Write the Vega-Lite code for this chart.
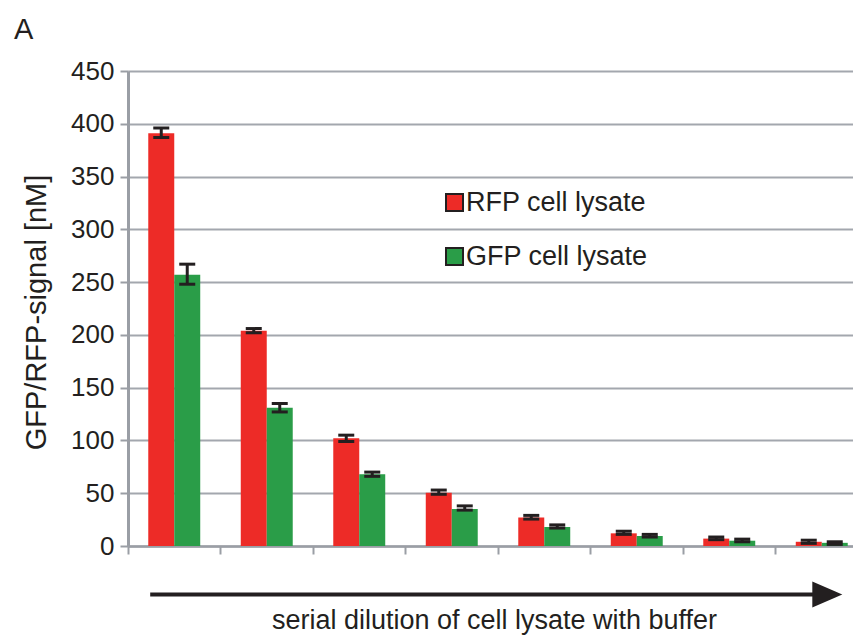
{
  "$schema": "https://vega.github.io/schema/vega-lite/v6.json",
  "autosize": "none",
  "padding": {"left": 128, "top": 71, "right": 0, "bottom": 89},
  "width": 740,
  "height": 475,
  "background": "white",
  "config": {
    "view": {"stroke": null},
    "font": "Liberation Sans",
    "legend": {
      "orient": "none",
      "legendX": 313,
      "legendY": 118,
      "symbolType": "square",
      "symbolSize": 289,
      "symbolStrokeColor": "#231F20",
      "symbolStrokeWidth": 2,
      "labelFontSize": 27,
      "labelFont": "Liberation Sans",
      "labelColor": "#231F20",
      "labelOffset": -2,
      "rowPadding": 26,
      "labelLimit": 400
    }
  },
  "title": {
    "text": "A",
    "anchor": "start",
    "frame": "group",
    "dx": -114,
    "offset": -10,
    "fontSize": 29,
    "fontWeight": "normal",
    "font": "Liberation Sans",
    "color": "#231F20",
    "baseline": "alphabetic"
  },
  "resolve": {"scale": {"x": "independent", "y": "independent"}},
  "layer": [
    {
      "data": {
        "values": [
          {"g": "1", "series": "RFP cell lysate", "value": 391, "lo": 387, "hi": 396},
          {"g": "1", "series": "GFP cell lysate", "value": 257, "lo": 248, "hi": 267},
          {"g": "2", "series": "RFP cell lysate", "value": 204, "lo": 202, "hi": 206},
          {"g": "2", "series": "GFP cell lysate", "value": 131, "lo": 127, "hi": 135},
          {"g": "3", "series": "RFP cell lysate", "value": 102, "lo": 99, "hi": 105},
          {"g": "3", "series": "GFP cell lysate", "value": 68, "lo": 66, "hi": 70},
          {"g": "4", "series": "RFP cell lysate", "value": 50.5, "lo": 49, "hi": 53},
          {"g": "4", "series": "GFP cell lysate", "value": 35, "lo": 34, "hi": 38},
          {"g": "5", "series": "RFP cell lysate", "value": 27, "lo": 25.5, "hi": 29},
          {"g": "5", "series": "GFP cell lysate", "value": 18, "lo": 17, "hi": 20},
          {"g": "6", "series": "RFP cell lysate", "value": 12, "lo": 11, "hi": 14},
          {"g": "6", "series": "GFP cell lysate", "value": 9.5, "lo": 8.5, "hi": 11},
          {"g": "7", "series": "RFP cell lysate", "value": 7, "lo": 6, "hi": 8.5},
          {"g": "7", "series": "GFP cell lysate", "value": 5, "lo": 4, "hi": 6.5},
          {"g": "8", "series": "RFP cell lysate", "value": 4, "lo": 2.5, "hi": 5.5},
          {"g": "8", "series": "GFP cell lysate", "value": 3, "lo": 1.5, "hi": 4}
        ]
      },
      "encoding": {
        "x": {
          "field": "g",
          "type": "ordinal",
          "scale": {"paddingInner": 0, "paddingOuter": 0},
          "axis": {
            "labels": false,
            "ticks": true,
            "tickSize": 8,
            "tickWidth": 2,
            "tickColor": "#9A9EA5",
            "bandPosition": 0,
            "domainColor": "#9A9EA5",
            "domainWidth": 2.5,
            "grid": false,
            "title": "serial dilution of cell lysate with buffer",
            "titleFont": "Liberation Sans",
            "titleFontSize": 27,
            "titleFontWeight": "normal",
            "titleColor": "#231F20",
            "titleBaseline": "alphabetic",
            "titleAlign": "center",
            "titleX": 366,
            "titleY": 82
          }
        },
        "xOffset": {
          "field": "series",
          "scale": {"domain": ["RFP cell lysate", "GFP cell lysate"], "paddingInner": 0, "paddingOuter": 0.78}
        }
      },
      "layer": [
        {
          "mark": {"type": "bar"},
          "encoding": {
            "y": {
              "field": "value",
              "type": "quantitative",
              "scale": {"domain": [0, 450], "nice": false},
              "axis": {
                "values": [0, 50, 100, 150, 200, 250, 300, 350, 400, 450],
                "grid": true,
                "gridColor": "#A3A7AE",
                "gridWidth": 2,
                "domainColor": "#9A9EA5",
                "domainWidth": 3,
                "tickColor": "#9A9EA5",
                "tickSize": 8,
                "tickWidth": 2,
                "labelFont": "Liberation Sans",
                "labelFontSize": 26,
                "labelColor": "#231F20",
                "labelPadding": 6,
                "title": "GFP/RFP-signal [nM]",
                "titleFont": "Liberation Sans",
                "titleFontSize": 29,
                "titleFontWeight": "normal",
                "titleColor": "#231F20",
                "titleBaseline": "alphabetic",
                "titleAngle": -90,
                "titleAlign": "center",
                "titleX": -83,
                "titleY": 241
              }
            },
            "color": {
              "field": "series",
              "type": "nominal",
              "scale": {"domain": ["RFP cell lysate", "GFP cell lysate"], "range": ["#ED2B27", "#2A9D48"]},
              "legend": {"title": null}
            }
          }
        },
        {
          "mark": {"type": "rule", "strokeWidth": 3, "color": "#231F20", "opacity": 1},
          "encoding": {
            "y": {"field": "lo", "type": "quantitative", "title": "GFP/RFP-signal [nM]"},
            "y2": {"field": "hi"}
          }
        },
        {
          "mark": {"type": "tick", "thickness": 3, "size": 16, "color": "#231F20", "opacity": 1},
          "encoding": {
            "y": {"field": "hi", "type": "quantitative", "title": "GFP/RFP-signal [nM]"}
          }
        },
        {
          "mark": {"type": "tick", "thickness": 3, "size": 16, "color": "#231F20", "opacity": 1},
          "encoding": {
            "y": {"field": "lo", "type": "quantitative", "title": "GFP/RFP-signal [nM]"}
          }
        }
      ]
    },
    {
      "data": {"values": [{"label": "arrow"}]},
      "encoding": {
        "y": {"datum": -46, "type": "quantitative", "scale": {"domain": [0, 450], "nice": false, "zero": false}, "axis": null}
      },
      "layer": [
        {
          "mark": {"type": "rule", "strokeWidth": 4, "color": "#231F20"},
          "encoding": {
            "x": {"datum": 0.24, "type": "quantitative", "scale": {"domain": [0, 8], "nice": false, "zero": false}, "axis": null},
            "x2": {"datum": 7.5}
          }
        },
        {
          "mark": {"type": "point", "shape": "M-1,-0.87L1,0L-1,0.87Z", "filled": true, "size": 900, "color": "#231F20", "opacity": 1},
          "encoding": {
            "x": {"datum": 7.56, "type": "quantitative", "scale": {"domain": [0, 8], "nice": false, "zero": false}, "axis": null}
          }
        }
      ]
    }
  ]
}
